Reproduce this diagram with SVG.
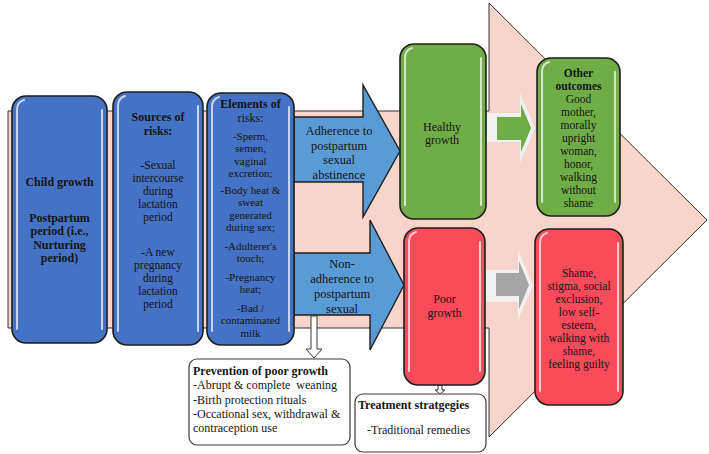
<svg xmlns="http://www.w3.org/2000/svg" width="709" height="454" viewBox="0 0 709 454">
<style>
text{font-family:"Liberation Serif","Times New Roman",serif;font-size:12px;fill:#151515;text-anchor:middle}
.b{font-weight:bold}
.l{text-anchor:start}
.s{font-size:11.5px}
.xs{font-size:11px}
.a{font-size:12.5px}
.blue{fill:#4472c4;stroke:#1e1e1e;stroke-width:1.6}
.green{fill:#70ad47;stroke:#1e1e1e;stroke-width:1.6}
.red{fill:#fa4b5b;stroke:#1e1e1e;stroke-width:1.6}
.arr{fill:#5b9bd5;stroke:#1e1e1e;stroke-width:1.4}
.hl{stroke:#ffffff;stroke-width:2;opacity:.7;stroke-linecap:round;fill:none}
.note{fill:#ffffff;stroke:#3a3a3a;stroke-width:1.2}
.hollow{fill:#ffffff;stroke:#3a3a3a;stroke-width:1}
</style>
<g id="background-arrow">
<path d="M8,111 L489,111 L489,3 L707,220 L489,437 L489,328 L8,328 Z" fill="#f8d5ca" stroke="#333" stroke-width="1"/>
</g>
<g id="connectors">
<path id="arrow-adherence" class="arr" d="M294,117 L363,117 L363,85 L400,151 L363,217 L363,182 L294,182 Z"/>
<path id="arrow-nonadherence" class="arr" d="M294,253 L370,253 L370,220 L404,285 L370,350 L370,315 L294,315 Z"/>
<path d="M486,113 L520,113 L520,93 L535,128 L520,163 L520,142 L486,142 Z" fill="#f1f1f1"/>
<path d="M497,117 L521,117 L521,104 L531,128 L521,152 L521,140 L497,140 Z" fill="#70ad47"/>
<path d="M486,270 L518,270 L518,250 L533,285 L518,320 L518,302 L486,302 Z" fill="#f1f1f1"/>
<path d="M496,273 L519,273 L519,261 L529,285 L519,309 L519,296 L496,296 Z" fill="#a5a5a5"/>
<path class="hollow" d="M311,316 L317,316 L317,349 L322,349 L314,358 L306,349 L311,349 Z"/>
<path class="hollow" d="M438,385 L442,385 L442,390 L445,390 L440,394 L435,390 L438,390 Z"/>
</g>
<g id="arrow-labels" class="a">
<text class="a" x="339" y="135">Adherence to</text>
<text class="a" x="339" y="149.5">postpartum</text>
<text class="a" x="339" y="164">sexual</text>
<text class="a" x="339" y="179">abstinence</text>
<text class="a" x="342" y="268">Non-</text>
<text class="a" x="342" y="283">adherence to</text>
<text class="a" x="342" y="298">postpartum</text>
<text class="a" x="342" y="312.5">sexual</text>
</g>
<g id="child-growth">
<rect class="blue" x="12" y="96" width="95" height="247" rx="14"/>
<path class="hl" d="M17,329 V110 Q17,102 24,100 M102,110 V329"/>
<text class="b" x="59.5" y="186">Child growth</text>
<text class="b" x="59.5" y="221.5">Postpartum</text>
<text class="b" x="59.5" y="235">period (i.e.,</text>
<text class="b" x="59.5" y="248.5">Nurturing</text>
<text class="b" x="59.5" y="262">period)</text>
</g>
<g id="sources-of-risks">
<rect class="blue" x="113" y="92" width="90" height="253" rx="14"/>
<path class="hl" d="M118,331 V106 Q118,98 125,96 M198,106 V331"/>
<text class="b" x="158" y="121">Sources of</text>
<text class="b" x="158" y="134.5">risks:</text>
<text class="s" x="158" y="169">-Sexual</text>
<text class="s" x="158" y="182">intercourse</text>
<text class="s" x="158" y="195">during</text>
<text class="s" x="158" y="208">lactation</text>
<text class="s" x="158" y="221">period</text>
<text class="s" x="158" y="256">-A new</text>
<text class="s" x="158" y="269">pregnancy</text>
<text class="s" x="158" y="282">during</text>
<text class="s" x="158" y="295">lactation</text>
<text class="s" x="158" y="308">period</text>
</g>
<g id="elements-of-risks">
<rect class="blue" x="207" y="93" width="87" height="252" rx="14"/>
<path class="hl" d="M212,331 V107 Q212,99 219,97 M289,107 V331"/>
<text class="b" x="250.5" y="108">Elements of</text>
<text x="250.5" y="122">risks:</text>
<text class="xs" x="250.5" y="140">-Sperm,</text>
<text class="xs" x="250.5" y="152.4">semen,</text>
<text class="xs" x="250.5" y="164.8">vaginal</text>
<text class="xs" x="250.5" y="177.2">excretion;</text>
<text class="xs" x="250.5" y="194">-Body heat &amp;</text>
<text class="xs" x="250.5" y="206.4">sweat</text>
<text class="xs" x="250.5" y="218.8">generated</text>
<text class="xs" x="250.5" y="231.2">during sex;</text>
<text class="xs" x="250.5" y="250">-Adulterer's</text>
<text class="xs" x="250.5" y="262.4">touch;</text>
<text class="xs" x="250.5" y="281">-Pregnancy</text>
<text class="xs" x="250.5" y="293.4">heat;</text>
<text class="xs" x="250.5" y="312">-Bad /</text>
<text class="xs" x="250.5" y="324.4">contaminated</text>
<text class="xs" x="250.5" y="336.8">milk</text>
</g>
<g id="healthy-growth">
<rect class="green" x="400" y="44" width="86" height="175" rx="14"/>
<path class="hl" d="M405,205 V58 Q405,50 412,48 M481,58 V205"/>
<text x="442" y="130.5">Healthy</text>
<text x="442" y="144">growth</text>
</g>
<g id="other-outcomes">
<rect class="green" x="537" y="58" width="83" height="158" rx="14"/>
<path class="hl" d="M542,202 V72 Q542,64 549,62 M615,72 V202"/>
<text class="b s" x="578.5" y="77">Other</text>
<text class="b s" x="578.5" y="90">outcomes</text>
<text class="s" x="578.5" y="103">Good</text>
<text class="s" x="578.5" y="116">mother,</text>
<text class="s" x="578.5" y="129">morally</text>
<text class="s" x="578.5" y="142">upright</text>
<text class="s" x="578.5" y="155">woman,</text>
<text class="s" x="578.5" y="168">honor,</text>
<text class="s" x="578.5" y="181">walking</text>
<text class="s" x="578.5" y="194">without</text>
<text class="s" x="578.5" y="207">shame</text>
</g>
<g id="poor-growth">
<rect class="red" x="404" y="228" width="81" height="157" rx="14"/>
<path class="hl" d="M409,371 V242 Q409,234 416,232 M480,242 V371"/>
<text x="444.5" y="303">Poor</text>
<text x="444.5" y="317">growth</text>
</g>
<g id="negative-outcomes">
<rect class="red" x="535" y="229" width="88" height="176" rx="14"/>
<path class="hl" d="M540,391 V243 Q540,235 547,233 M618,243 V391"/>
<text class="s" x="579" y="277">Shame,</text>
<text class="s" x="579" y="290">stigma, social</text>
<text class="s" x="579" y="303">exclusion,</text>
<text class="s" x="579" y="316">low self-</text>
<text class="s" x="579" y="329">esteem,</text>
<text class="s" x="579" y="342">walking with</text>
<text class="s" x="579" y="355">shame,</text>
<text class="s" x="579" y="368">feeling guilty</text>
</g>
<g id="prevention">
<rect class="note" x="189" y="359" width="161" height="86" rx="8"/>
<text class="l b" x="193" y="375">Prevention of poor growth</text>
<text class="l" x="193" y="389" xml:space="preserve">-Abrupt &amp; complete  weaning</text>
<text class="l" x="193" y="403.5">-Birth protection rituals</text>
<text class="l" x="193" y="418">-Occational sex, withdrawal &amp;</text>
<text class="l" x="193" y="432">contraception use</text>
</g>
<g id="treatment">
<rect class="note" x="355" y="394" width="131" height="58" rx="8"/>
<text class="l b" x="358" y="409">Treatment stratgegies</text>
<text class="l" x="367" y="434">-Traditional remedies</text>
</g>
</svg>
